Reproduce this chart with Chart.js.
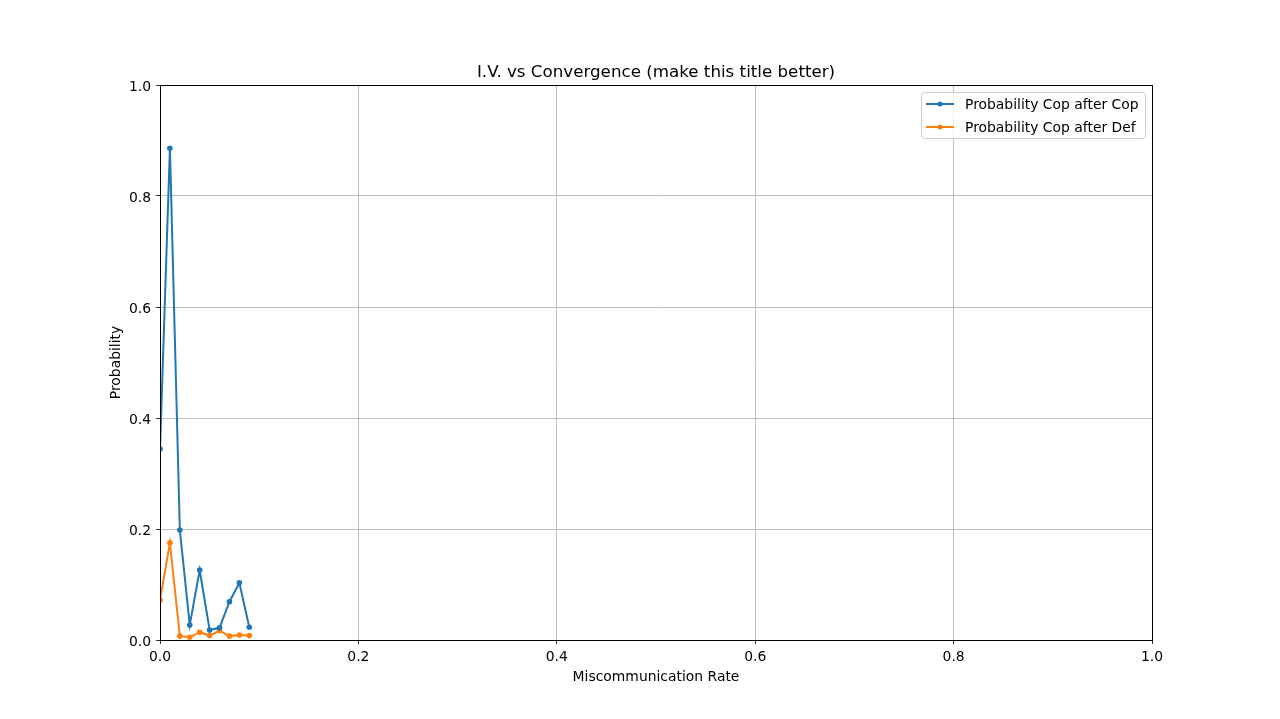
<!DOCTYPE html>
<html>
<head>
<meta charset="utf-8">
<script src="https://cdn.jsdelivr.net/npm/chart.js@4.4.0/dist/chart.umd.min.js"></script>
<style>
  html, body { margin: 0; padding: 0; background: #fff; }
  #wrap { width: 1280px; height: 719px; }
</style>
</head>
<body>
<div id="wrap"><canvas id="chart" width="1280" height="719"></canvas></div>
<script>
// Miscommunication rates on the x axis
const rates = [0, 0.01, 0.02, 0.03, 0.04, 0.05, 0.06, 0.07, 0.08, 0.09];
// Probability of cooperating after the partner cooperated
const copAfterCop = [0.344, 0.886, 0.198, 0.027, 0.126, 0.018, 0.022, 0.069, 0.103, 0.023];
// Probability of cooperating after the partner defected
const copAfterDef = [0.072, 0.175, 0.007, 0.005, 0.014, 0.008, 0.017, 0.007, 0.009, 0.008];
const tickValues = [0, 0.2, 0.4, 0.6, 0.8, 1.0];

const titleText = "I.V. vs Convergence (make this title better)";
const seriesNames = ["Probability Cop after Cop", "Probability Cop after Def"];
const colors = ["#1f77b4", "#ff7f0e"];
const font = "DejaVu Sans";

function toPoints(ys) {
  return rates.map((x, i) => ({ x: x, y: ys[i] }));
}

// frame, title, axis labels and the legend box, matplotlib style
const extras = {
  id: "extras",
  afterDraw(chart) {
    const ctx = chart.ctx;
    const a = chart.chartArea;
    ctx.save();
    ctx.strokeStyle = "#000";
    ctx.lineWidth = 1;
    ctx.strokeRect(Math.round(a.left) + 0.5, Math.round(a.top) + 0.5,
                   Math.round(a.right - a.left), Math.round(a.bottom - a.top));

    ctx.fillStyle = "#000";
    ctx.textAlign = "center";
    ctx.textBaseline = "middle";
    ctx.font = "16.7px '" + font + "'";
    ctx.fillText(titleText, (a.left + a.right) / 2, 73);

    ctx.font = "13.9px '" + font + "'";
    ctx.fillText("Miscommunication Rate", (a.left + a.right) / 2, 677);
    ctx.save();
    ctx.translate(116, (a.top + a.bottom) / 2);
    ctx.rotate(-Math.PI / 2);
    ctx.fillText("Probability", 0, 0);
    ctx.restore();

    // legend
    const bx = 921, by = 92, bw = 224, bh = 46;
    ctx.fillStyle = "rgba(255,255,255,0.8)";
    ctx.strokeStyle = "#cccccc";
    ctx.lineWidth = 1;
    ctx.beginPath();
    ctx.roundRect(bx + 0.5, by + 0.5, bw, bh, 3);
    ctx.fill();
    ctx.stroke();
    ctx.textAlign = "left";
    seriesNames.forEach((name, i) => {
      const y = 104 + i * 23;
      ctx.strokeStyle = colors[i];
      ctx.lineWidth = 2;
      ctx.beginPath();
      ctx.moveTo(926, y);
      ctx.lineTo(954, y);
      ctx.stroke();
      ctx.fillStyle = colors[i];
      ctx.beginPath();
      ctx.arc(940, y, 2.5, 0, Math.PI * 2);
      ctx.fill();
      ctx.fillStyle = "#000";
      ctx.fillText(name, 965, y + 1);
    });
    ctx.restore();
  }
};

new Chart(document.getElementById("chart"), {
  type: "line",
  data: {
    datasets: [
      {
        label: seriesNames[0],
        data: toPoints(copAfterCop),
        borderColor: colors[0],
        backgroundColor: colors[0],
        borderWidth: 2,
        pointRadius: 2.8,
        pointBorderWidth: 0,
        tension: 0,
        clip: 0
      },
      {
        label: seriesNames[1],
        data: toPoints(copAfterDef),
        borderColor: colors[1],
        backgroundColor: colors[1],
        borderWidth: 2,
        pointRadius: 2.8,
        pointBorderWidth: 0,
        tension: 0,
        clip: 0
      }
    ]
  },
  options: {
    responsive: false,
    animation: false,
    layout: { padding: { left: 0, top: 85, right: 128, bottom: 0 } },
    plugins: {
      legend: { display: false },
      title: { display: false },
      tooltip: { enabled: false }
    },
    scales: {
      x: {
        type: "linear",
        min: 0,
        max: 1,
        afterFit: (s) => { s.height = 79; },
        afterBuildTicks: (s) => { s.ticks = tickValues.map(v => ({ value: v })); },
        ticks: {
          color: "#000",
          font: { family: font, size: 13.9 },
          padding: 5,
          maxRotation: 0,
          callback: (v) => v.toFixed(1)
        },
        grid: { color: "#b0b0b0", lineWidth: 0.8, tickColor: "#000", tickLength: 4 },
        border: { color: "#000", width: 1 }
      },
      y: {
        type: "linear",
        min: 0,
        max: 1,
        afterFit: (s) => { s.width = 160; },
        afterBuildTicks: (s) => { s.ticks = tickValues.map(v => ({ value: v })); },
        ticks: {
          color: "#000",
          font: { family: font, size: 13.9 },
          padding: 5,
          labelOffset: 2,
          callback: (v) => v.toFixed(1)
        },
        grid: { color: "#b0b0b0", lineWidth: 0.8, tickColor: "#000", tickLength: 4 },
        border: { color: "#000", width: 1 }
      }
    }
  },
  plugins: [extras]
});
</script>
</body>
</html>
